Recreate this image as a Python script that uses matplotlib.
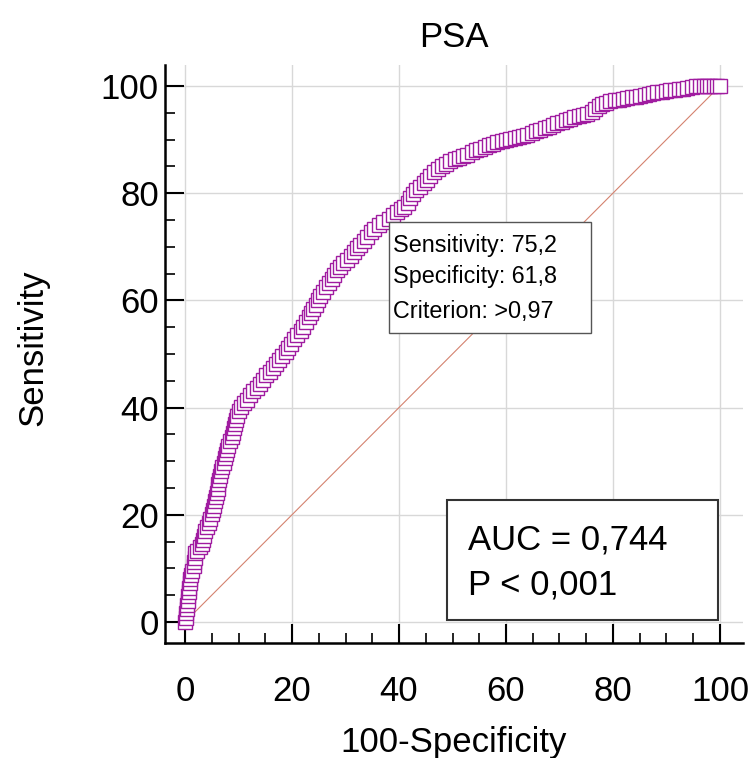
import matplotlib
matplotlib.use("Agg")
import matplotlib.pyplot as plt
from matplotlib.patches import Rectangle
from matplotlib.ticker import MultipleLocator

plt.rcParams['font.family'] = ['Liberation Sans', 'DejaVu Sans']

# ROC points: 100-Specificity (x) and Sensitivity (y)
fpr = [0, 0.1, 0.2, 0.3, 0.4, 0.5, 0.6, 0.7, 0.8, 0.9, 1.0, 1.2, 1.4, 1.6, 1.7, 1.8, 1.9, 2.3, 2.8, 3.2,
       3.4, 3.6, 3.8, 4.1, 4.4, 4.7, 5.0, 5.2, 5.4, 5.6, 5.8, 6.0, 6.1, 6.2, 6.3, 6.5, 6.7, 7.0, 7.3, 7.5,
       7.7, 7.9, 8.1, 8.4, 8.7, 8.9, 9.1, 9.3, 9.5, 9.8, 10.1, 10.5, 11.0, 11.6, 12.2, 12.8, 13.4, 14.0, 14.6, 15.2,
       15.8, 16.4, 17.0, 17.6, 18.2, 18.8, 19.3, 19.8, 20.4, 21.0, 21.6, 22.1, 22.6, 23.1, 23.6, 24.0, 24.4, 24.8, 25.2, 25.7,
       26.3, 26.9, 27.4, 27.9, 28.4, 29.0, 29.6, 30.3, 31.0, 31.6, 32.2, 32.8, 33.4, 34.0, 34.7, 35.4, 36.2, 37.1, 38.2, 38.9,
       39.6, 40.3, 41.0, 41.6, 42.1, 42.6, 43.2, 43.9, 44.6, 45.2, 45.8, 46.5, 47.2, 48.0, 48.8, 49.6, 50.4, 51.2, 52.0, 52.8,
       53.6, 54.4, 55.2, 56.0, 56.8, 57.6, 58.4, 59.2, 60.0, 60.8, 61.6, 62.4, 63.2, 64.0, 64.8, 65.6, 66.4, 67.2, 68.0, 68.8,
       69.6, 70.4, 71.2, 72.0, 72.8, 73.6, 74.4, 75.2, 76.0, 76.7, 77.3, 77.9, 78.7, 79.5, 80.3, 81.1, 81.9, 82.7, 83.5, 84.3,
       85.1, 85.9, 86.7, 87.5, 88.3, 89.1, 89.9, 90.7, 91.5, 92.3, 93.1, 93.9, 94.7, 95.5, 96.3, 97.0, 97.6, 98.2, 98.8, 99.4,
       100]
tpr = [0, 0.8, 1.6, 2.4, 3.2, 4.0, 4.8, 5.6, 6.4, 7.2, 8.0, 8.8, 9.6, 10.4, 11.2, 12.0, 12.8, 13.3, 13.9, 14.6,
       15.3, 16.1, 16.9, 17.7, 18.5, 19.3, 20.1, 20.9, 21.7, 22.5, 23.3, 24.1, 24.9, 25.7, 26.5, 27.3, 28.1, 28.9, 29.7, 30.5,
       31.3, 32.1, 32.9, 33.7, 34.5, 35.3, 36.1, 36.9, 37.7, 38.5, 39.3, 40.1, 40.8, 41.5, 42.3, 43.0, 43.7, 44.4, 45.2, 46.0,
       46.6, 47.3, 48.1, 48.8, 49.6, 50.3, 51.1, 51.9, 52.7, 53.5, 54.3, 55.1, 55.9, 56.8, 57.6, 58.4, 59.2, 60.0, 60.8, 61.6,
       62.4, 63.2, 64.0, 64.8, 65.6, 66.3, 67.0, 67.6, 68.3, 69.0, 69.7, 70.4, 71.1, 71.9, 72.7, 73.4, 74.1, 74.7, 75.2, 75.9,
       76.5, 77.0, 77.5, 78.2, 79.0, 79.8, 80.5, 81.2, 81.9, 82.5, 83.2, 83.9, 84.5, 85.0, 85.5, 85.9, 86.3, 86.6, 86.9, 87.2,
       87.6, 88.0, 88.3, 88.6, 88.9, 89.2, 89.5, 89.7, 89.9, 90.1, 90.3, 90.5, 90.7, 90.9, 91.2, 91.5, 91.8, 92.1, 92.4, 92.7,
       93.0, 93.3, 93.6, 93.9, 94.2, 94.4, 94.6, 94.8, 95.1, 95.6, 96.2, 96.7, 96.9, 97.1, 97.3, 97.4, 97.5, 97.7, 97.9, 98.0,
       98.2, 98.3, 98.4, 98.6, 98.8, 98.9, 99.0, 99.2, 99.3, 99.4, 99.5, 99.7, 99.8, 99.9, 99.9, 100, 100, 100, 100, 100,
       100]

diag = [0, 100]
ticks = [0, 20, 40, 60, 80, 100]

title = "PSA"
xlabel = "100-Specificity"
ylabel = "Sensitivity"
crit_lines = ["Sensitivity: 75,2", "Specificity: 61,8", "Criterion: >0,97"]
auc_lines = ["AUC = 0,744", "P < 0,001"]

purple = '#a01ca0'

fig = plt.figure(figsize=(7.52, 7.58), dpi=100)
ax = fig.add_axes([165/752, 1-643/758, (743-165)/752, (643-65)/758])

ax.set_xlim(-3.74, 104.3)
ax.set_ylim(-3.92, 103.9)

ax.grid(True, which='major', color='#d8d8d8', linewidth=1.0)
ax.set_axisbelow(True)

ax.plot(diag, diag, color='#d4826f', linewidth=0.8, zorder=2)
ax.plot(fpr, tpr, color=purple, linewidth=1.0, marker='s', markersize=9.5,
        markerfacecolor='white', markeredgecolor=purple, markeredgewidth=1.0, zorder=3)

for s in ['top', 'right']:
    ax.spines[s].set_visible(False)
for s in ['left', 'bottom']:
    ax.spines[s].set_linewidth(1.8)
    ax.spines[s].set_color('black')

ax.set_xticks(ticks)
ax.set_yticks(ticks)
ax.xaxis.set_minor_locator(MultipleLocator(5))
ax.yaxis.set_minor_locator(MultipleLocator(5))
ax.tick_params(which='major', direction='in', length=14, width=1.5, labelsize=25)
ax.tick_params(which='minor', direction='in', length=7, width=1.2)
ax.tick_params(axis='x', which='major', pad=23)
ax.tick_params(axis='y', which='major', pad=4.5)

ax.set_title(title, fontsize=25, pad=13)
ax.set_xlabel(xlabel, fontsize=25)
ax.set_ylabel(ylabel, fontsize=25)
ax.xaxis.set_label_coords(0.5, -0.143)
ax.yaxis.set_label_coords(-0.2, 0.51)

# criterion box
ax.add_patch(Rectangle((38.2, 53.9), 37.7, 20.7, facecolor='white',
                       edgecolor='#555555', linewidth=1.0, zorder=4))
for t, yy in zip(crit_lines, [70.3, 64.4, 58.0]):
    ax.text(38.9, yy, t, fontsize=16.8, va='center', ha='left', zorder=5)

# AUC box
ax.add_patch(Rectangle((49.0, 0.4), 50.6, 22.4, facecolor='white',
                       edgecolor='#333333', linewidth=1.5, zorder=4))
for t, yy in zip(auc_lines, [15.3, 6.9]):
    ax.text(52.9, yy, t, fontsize=25, va='center', ha='left', zorder=5)

fig.savefig('out.png', dpi=100)
